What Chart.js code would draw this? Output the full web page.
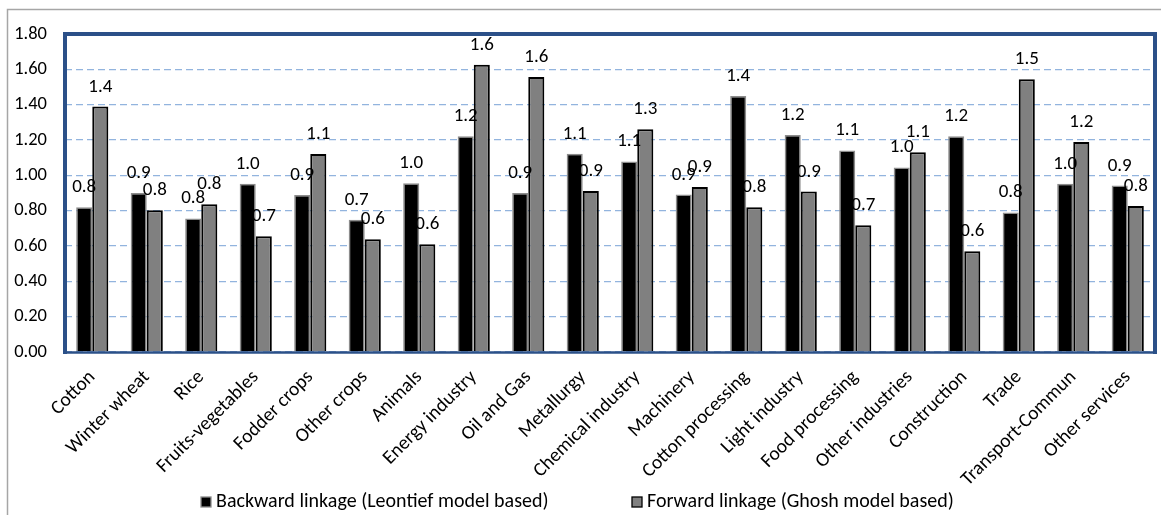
<!DOCTYPE html>
<html><head><meta charset="utf-8">
<script src="https://cdn.jsdelivr.net/npm/chart.js@4.4.0/dist/chart.umd.min.js"></script>
<style>html,body{margin:0;padding:0;background:#fff;}#wrap{width:1161px;height:515px;position:relative;}</style>
</head><body><div id="wrap"><canvas id="c"></canvas></div>
<script>
const categories = ["Cotton","Winter wheat","Rice","Fruits-vegetables","Fodder crops","Other crops","Animals","Energy industry","Oil and Gas","Metallurgy","Chemical industry","Machinery","Cotton processing","Light industry","Food processing","Other industries","Construction","Trade","Transport-Commun","Other services"];
const backwardLinkage = [0.82,0.90,0.756,0.952,0.889,0.748,0.955,1.221,0.900,1.122,1.079,0.891,1.449,1.229,1.141,1.045,1.221,0.790,0.953,0.942];
const forwardLinkage = [1.389,0.803,0.836,0.655,1.121,0.638,0.610,1.626,1.557,0.912,1.261,0.934,0.819,0.908,0.718,1.130,0.570,1.544,1.189,0.826];
const seriesLabels = ["Backward linkage (Leontief model based)","Forward linkage (Ghosh model based)"];
const yTicks = [0,0.2,0.4,0.6,0.8,1.0,1.2,1.4,1.6,1.8];

const FONT = "Carlito, Lato, 'Liberation Sans', sans-serif";

const framePlugin = {
  id: 'frame',
  beforeDraw(chart){
    const ctx = chart.ctx;
    ctx.save();
    ctx.fillStyle = '#fff';
    ctx.fillRect(0,0,chart.width,chart.height);
    ctx.strokeStyle = '#a6a6a6';
    ctx.lineWidth = 1.5;
    ctx.strokeRect(7.5, 9.5, chart.width + 20, chart.height + 20);
    ctx.restore();
  },
  afterDatasetsDraw(chart){
    const ctx = chart.ctx, a = chart.chartArea;
    ctx.save();
    ctx.strokeStyle = '#2B5088';
    ctx.lineCap = 'square';
    ctx.lineWidth = 4;
    ctx.beginPath();
    ctx.moveTo(a.left, a.bottom);
    ctx.lineTo(a.left, a.top);
    ctx.lineTo(a.right, a.top);
    ctx.lineTo(a.right, a.bottom);
    ctx.stroke();
    ctx.lineWidth = 2.5;
    ctx.beginPath();
    ctx.moveTo(a.left, a.bottom + 0.5);
    ctx.lineTo(a.right, a.bottom + 0.5);
    ctx.stroke();
    // data labels
    ctx.fillStyle = '#000';
    ctx.font = "19px " + FONT;
    ctx.textAlign = 'center';
    ctx.textBaseline = 'alphabetic';
    chart.data.datasets.forEach((ds, i) => {
      const meta = chart.getDatasetMeta(i);
      meta.data.forEach((bar, j) => {
        ctx.fillText(Number(ds.data[j]).toFixed(1), bar.x, bar.y - 15);
      });
    });
    // legend
    ctx.font = "20px " + FONT;
    ctx.textAlign = 'left';
    ctx.textBaseline = 'middle';
    const items = [{x:201}, {x:632}];
    chart.data.datasets.forEach((ds, i) => {
      const x = items[i].x, y = 502;
      ctx.fillStyle = ds.backgroundColor;
      ctx.fillRect(x, y - 5, 10, 10);
      ctx.strokeStyle = ds.borderColor;
      ctx.lineWidth = 1.3;
      ctx.strokeRect(x, y - 5, 10, 10);
      ctx.fillStyle = '#000';
      ctx.fillText(ds.label, x + 15, y);
    });
    ctx.restore();
  }
};

new Chart(document.getElementById('c'), {
  type: 'bar',
  data: {
    labels: categories,
    datasets: [
      {label: seriesLabels[0], data: backwardLinkage, backgroundColor: '#000000', borderColor: '#8c8c8c', borderWidth: 1.5},
      {label: seriesLabels[1], data: forwardLinkage, backgroundColor: '#808080', borderColor: '#000000', borderWidth: 2}
    ]
  },
  options: {
    responsive: true,
    maintainAspectRatio: false,
    animation: false,
    layout: {padding: {left: 7, top: 34, right: 6, bottom: 0}},
    datasets: {bar: {categoryPercentage: 0.59, barPercentage: 1.0}},
    plugins: {legend: {display: false}, tooltip: {enabled: false}},
    scales: {
      x: {
        grid: {display: false, drawTicks: false},
        border: {display: false},
        ticks: {color: '#000', font: {family: FONT, size: 19.5}, maxRotation: 45, minRotation: 45, padding: 14, autoSkip: false},
        afterFit(s){ s.height = 163; }
      },
      y: {
        min: 0, max: 1.8,
        afterBuildTicks(s){ s.ticks = yTicks.map(v => ({value: v})); },
        grid: {color: '#92B4DE', lineWidth: 1.3, drawTicks: false},
        border: {display: false, dash: [7,4]},
        ticks: {color: '#000', font: {family: FONT, size: 18.5}, padding: 18, callback: v => Number(v).toFixed(2)},
        afterFit(s){ s.width = 58; }
      }
    }
  },
  plugins: [framePlugin]
});
</script></body></html>
